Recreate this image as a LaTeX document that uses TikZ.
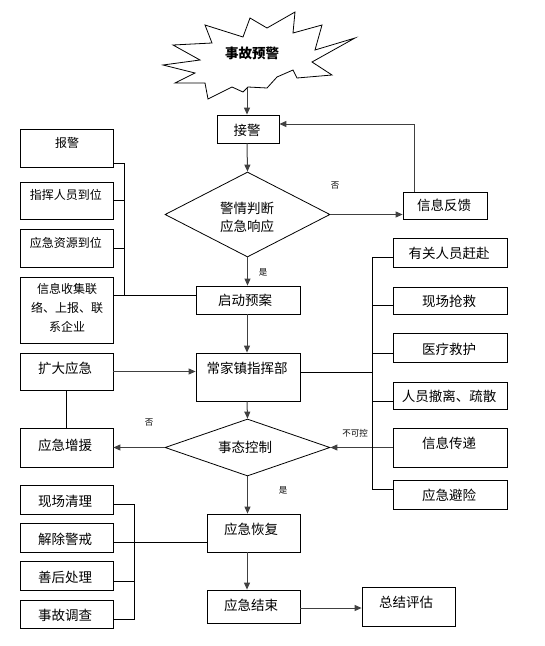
\documentclass[tikz,border=0pt]{standalone}
\usepackage{fontspec}
\setmainfont{Noto Sans CJK SC}
\usetikzlibrary{arrows.meta,shapes.geometric}
\tikzset{
 box/.style={draw, line width=0.8pt, inner sep=0, rectangle},
 dia/.style={draw, line width=0.8pt, inner sep=0, shape=diamond},
 t/.style={inner sep=0, font=\fontsize{13.5}{16}\selectfont},
 ts/.style={inner sep=0, font=\fontsize{12}{19}\selectfont, align=center},
 lab/.style={inner sep=0, font=\fontsize{8.5}{10}\selectfont},
 arr/.style={draw=black!75, line width=1pt, -{Triangle[length=7pt,width=6pt]}},
 ln/.style={draw, line width=0.8pt},
}
\begin{document}
\begin{tikzpicture}[x=1pt,y=-1pt]
\useasboundingbox (0,0) rectangle (545,646);
% starburst
\draw[line width=0.8pt, fill=white] (205,25) -- (212,43) -- (173,45) -- (200,60) -- (163,65) -- (195,73) -- (175,83) -- (205,83) -- (208,99) -- (232,87) -- (243,92) -- (248,87) -- (267,88) -- (277,77) -- (293,70) -- (297,78) -- (332,75) -- (312,62) -- (355,38) -- (315,50) -- (322,25) -- (293,33) -- (295,12) -- (267,28) -- (250,18) -- (243,37) -- cycle;
\node[inner sep=0, font=\fontsize{13.5}{16}\selectfont\bfseries] (star) at (252,53) {事故预警};
\coordinate (sb) at (247,88);

% main column
\node[box, minimum width=62, minimum height=28] (jiejing) at (248,129) {};
\node[t] (tjiejing) at (247,130) {接警};
\node[dia, minimum width=165, minimum height=85] (dia1) at (247.5,214.5) {};
\node[ts, font=\fontsize{13.5}{18}\selectfont] (tdia1) at (247,217) {警情判断\\应急响应};
\node[box, minimum width=84, minimum height=27] (fankui) at (445,205.5) {};
\node[t] (tfankui) at (444,205) {信息反馈};
\node[box, minimum width=104, minimum height=28] (qidong) at (248,300) {};
\node[t] (tqidong) at (245,300) {启动预案};
\node[box, minimum width=104, minimum height=48] (zhb) at (248,377) {};
\node[t] (tzhb) at (247,368) {常家镇指挥部};
\node[dia, minimum width=165, minimum height=57] (dia2) at (247.5,447.5) {};
\node[t] (tdia2) at (245,447) {事态控制};
\node[box, minimum width=93, minimum height=38] (huifu) at (253.5,533) {};
\node[t] (thuifu) at (251,529) {应急恢复};
\node[box, minimum width=93, minimum height=33] (jieshu) at (253.5,606.5) {};
\node[t] (tjieshu) at (251,605) {应急结束};
\node[box, minimum width=93, minimum height=39] (zongjie) at (408.5,606.5) {};
\node[t] (tzongjie) at (406,602) {总结评估};

% left upper
\node[box, minimum width=93, minimum height=38] (baojing) at (66.5,148) {};
\node[ts] (tbaojing) at (67,143) {报警};
\node[box, minimum width=93, minimum height=37] (zhihui) at (66.5,200.5) {};
\node[ts] (tzhihui) at (66,195) {指挥人员到位};
\node[box, minimum width=93, minimum height=38] (ziyuan) at (66.5,248) {};
\node[ts] (tziyuan) at (66,243) {应急资源到位};
\node[box, minimum width=93, minimum height=66] (xinxi) at (66.5,310) {};
\node[ts] (txinxi) at (67,308) {信息收集联\\络、上报、联\\系企业};
\node[box, minimum width=93, minimum height=37] (kuoda) at (66.5,371.5) {};
\node[t] (tkuoda) at (65,368) {扩大应急};
\node[box, minimum width=93, minimum height=39] (zengyuan) at (66.5,447.5) {};
\node[t] (tzengyuan) at (65,445) {应急增援};

% left lower
\node[box, minimum width=93, minimum height=29] (qingli) at (66.5,499.5) {};
\node[t] (tqingli) at (65,501) {现场清理};
\node[box, minimum width=93, minimum height=29] (jiechu) at (66.5,537.5) {};
\node[t] (tjiechu) at (65,539) {解除警戒};
\node[box, minimum width=93, minimum height=29] (shanhou) at (66.5,575.5) {};
\node[t] (tshanhou) at (65,577) {善后处理};
\node[box, minimum width=93, minimum height=28] (diaocha) at (66.5,614) {};
\node[t] (tdiaocha) at (65,615) {事故调查};

% right
\node[box, minimum width=114, minimum height=29] (ganfu) at (450,252.5) {};
\node[t] (tganfu) at (449,253) {有关人员赶赴};
\node[box, minimum width=114, minimum height=27] (qiangjiu) at (450,300.5) {};
\node[t] (tqiangjiu) at (449,301) {现场抢救};
\node[box, minimum width=114, minimum height=29] (yiliao) at (450,347.5) {};
\node[t] (tyiliao) at (449,349) {医疗救护};
\node[box, minimum width=114, minimum height=27] (chesan) at (450,395.5) {};
\node[t] (tchesan) at (449,396) {人员撤离、疏散};
\node[box, minimum width=114, minimum height=39] (chuandi) at (450,447.5) {};
\node[t] (tchuandi) at (449,443) {信息传递};
\node[box, minimum width=114, minimum height=29] (bixian) at (450,494.5) {};
\node[t] (tbixian) at (449,495) {应急避险};

% labels
\node[lab] (l1) at (335,186) {否};
\node[lab] (l2) at (263,272) {是};
\node[lab] (l3) at (149,423) {否};
\node[lab] (l4) at (355,433) {不可控};
\node[lab] (l5) at (283,490) {是};

% bus coordinates
\coordinate (lbt) at (124,163);
\coordinate (lbb) at (124,295);
\coordinate (rbt) at (372,257);
\coordinate (rbm) at (372,372);
\coordinate (rbb) at (372,489);
\coordinate (bbt) at (134,504);
\coordinate (bbm) at (134,542);
\coordinate (bbb) at (134,619);
\coordinate (fb) at (414,124);
\coordinate (col) at (247,0);

% main arrows
\draw[arr] (sb) -- (sb |- jiejing.north);
\draw[arr] (jiejing.south -| col) -- (dia1.north);
\draw[arr] (dia1.east) -- (dia1.east -| fankui.west);
\draw[arr] (fankui.north -| fb) -- (fb) -- (fb -| jiejing.east);
\draw[arr] (dia1.south) -- (dia1.south |- qidong.north);
\draw[arr] (qidong.south -| col) -- (zhb.north -| col);
\draw[arr] (zhb.south -| col) -- (dia2.north);
\draw[arr] (kuoda.east) -- (kuoda.east -| zhb.west);
\draw[arr] (dia2.west) -- (zengyuan.east);
\draw[arr] (chuandi.west) -- (dia2.east);
\draw[arr] (dia2.south) -- (dia2.south |- huifu.north);
\draw[arr] (huifu.south -| col) -- (jieshu.north -| col);
\draw[arr] (jieshu.east) ++(0,1.5) coordinate (je) -- (je -| zongjie.west);

% left upper bus
\draw[ln] (lbt -| baojing.east) -- (lbt) -- (lbb);
\draw[ln] (zhihui.east) -- (zhihui.east -| lbt);
\draw[ln] (ziyuan.east) -- (ziyuan.east -| lbt);
\draw[ln] (lbb -| xinxi.east) -- (lbb -| qidong.west);
\draw[ln] (kuoda.south) -- (zengyuan.north);

% right bus
\draw[ln] (rbt -| ganfu.west) -- (rbt) -- (rbb) -- (rbb -| bixian.west);
\draw[ln] (rbm -| zhb.east) -- (rbm);
\coordinate (rq) at (372,305);
\coordinate (ry) at (372,353);
\coordinate (rc) at (372,401);
\draw[ln] (rq) -- (rq -| qiangjiu.west);
\draw[ln] (ry) -- (ry -| yiliao.west);
\draw[ln] (rc) -- (rc -| chesan.west);

% bottom-left bus
\draw[ln] (bbt -| qingli.east) -- (bbt) -- (bbb) -- (bbb -| diaocha.east);
\draw[ln] (bbm -| jiechu.east) -- (bbm -| huifu.west);
\coordinate (bs) at (134,581);
\draw[ln] (bs -| shanhou.east) -- (bs);
\end{tikzpicture}
\end{document}
